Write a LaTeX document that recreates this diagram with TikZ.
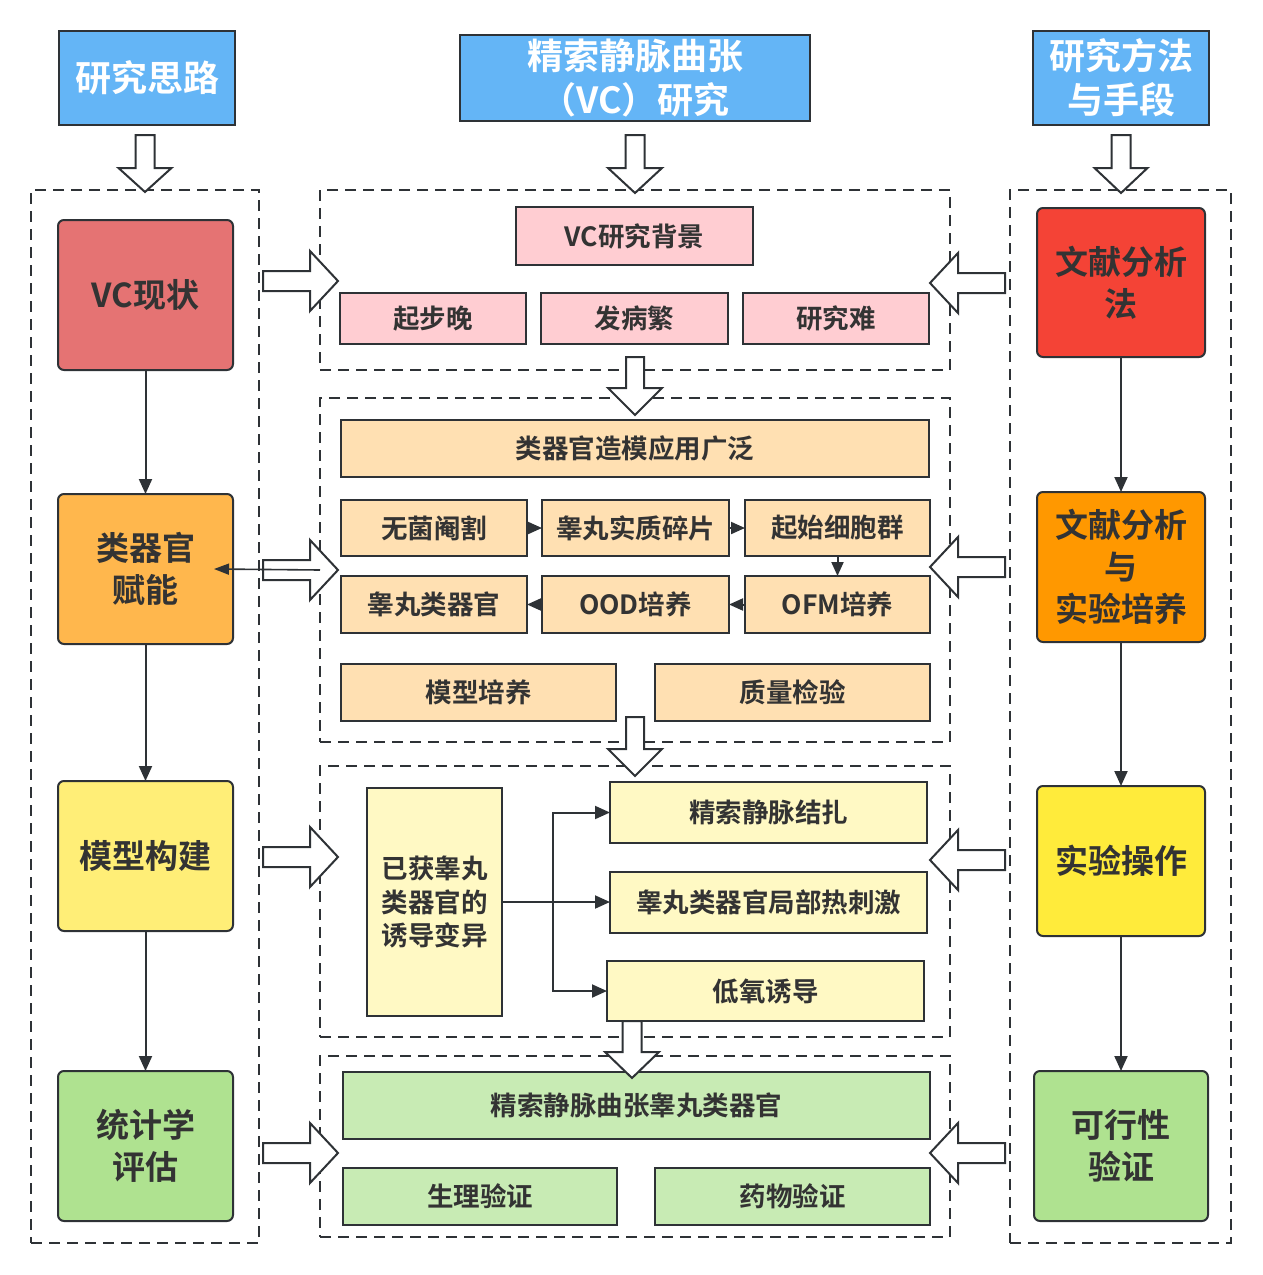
\documentclass[tikz,border=0pt]{standalone}
\usepackage{fontspec}
\setmainfont{Noto Sans CJK SC}[BoldFont={Noto Sans CJK SC Bold}]
\usetikzlibrary{arrows.meta,calc}
\definecolor{ln}{HTML}{2E3236}
\definecolor{txt}{HTML}{333333}
\definecolor{hdrblue}{HTML}{64B5F6}
\definecolor{cA}{HTML}{E57373}
\definecolor{cB}{HTML}{FFB74D}
\definecolor{cC}{HTML}{FFEE77}
\definecolor{cD}{HTML}{AFE290}
\definecolor{rA}{HTML}{F44336}
\definecolor{rB}{HTML}{FF9800}
\definecolor{rC}{HTML}{FFEB3B}
\definecolor{pinkf}{HTML}{FFCDD2}
\definecolor{peachf}{HTML}{FFE0B2}
\definecolor{ltyel}{HTML}{FFF9C4}
\definecolor{ltgrn}{HTML}{C8EBB4}
\begin{document}
\begin{tikzpicture}[x=1pt,y=-1pt,
  corners/.style args={#1/#2/#3/#4}{at={({(#1+#3)/2},{(#2+#4)/2})},minimum width={#3-#1},minimum height={#4-#2}},
  base/.style={draw=ln, line width=2pt, inner sep=0pt, outer sep=0pt, text=txt, align=center},
  hdr/.style={base, fill=hdrblue, text=white, font=\fontsize{36}{44}\selectfont\bfseries},
  side/.style={base, rounded corners=6pt, font=\fontsize{33}{42}\selectfont\bfseries},
  item/.style={base, font=\fontsize{26.5}{33.5}\selectfont\bfseries},
  dbox/.style={draw=ln, line width=2pt, dash pattern=on 11pt off 7pt, inner sep=0pt, outer sep=0pt},
  tip/.style={draw=ln, line width=2pt, -{Triangle[length=15pt,width=13pt]}},
  stip/.style={draw=ln, line width=2pt, -{Triangle[length=14pt,width=12pt]}},
  thin/.style={draw=ln, line width=1.6pt, -{Triangle[length=15pt,width=11pt]}},
  hollow/.style={draw=ln, line width=2pt, fill=white, line join=miter},
  pics/blk/.style args={#1/#2/#3/#4}{code={\draw[hollow] (0,-#3) -- ({#1-#2},-#3) -- ({#1-#2},-#4) -- (#1,0) -- ({#1-#2},#4) -- ({#1-#2},#3) -- (0,#3) -- cycle;}}
]
\useasboundingbox (0,0) rectangle (1263,1275);

% headers
\node[hdr, corners=59/31/235/125] (h1) {研究思路};
\node[hdr, corners=460/35/810/121] (h2) {精索静脉曲张\\（VC）研究};
\node[hdr, corners=1033/31/1209/125] (h3) {研究方法\\与手段};

% dashed frames
\node[dbox, corners=31/190/259/1243] (lcol) {};
\node[dbox, corners=320/190/950/370] (mb1) {};
\node[dbox, corners=320/398/950/742] (mb2) {};
\node[dbox, corners=320/766/950/1037] (mb3) {};
\node[dbox, corners=320/1056/950/1237] (mb4) {};
\node[dbox, corners=1010/190/1231/1243] (rcol) {};

% left column
\node[side, fill=cA, corners=58/220/233/370] (l1) {VC现状};
\node[side, fill=cB, corners=58/494/233/644] (l2) {类器官\\赋能};
\node[side, fill=cC, corners=58/781/233/931] (l3) {模型构建};
\node[side, fill=cD, corners=58/1071/233/1221] (l4) {统计学\\评估};

% right column
\node[side, fill=rA, corners=1037/208/1205/357] (r1) {文献分析\\法};
\node[side, fill=rB, corners=1037/492/1205/642] (r2) {文献分析\\与\\实验培养};
\node[side, fill=rC, corners=1037/786/1205/936] (r3) {实验操作};
\node[side, fill=cD, corners=1034/1071/1208/1221] (r4) {可行性\\验证};

% middle box 1
\node[item, fill=pinkf, corners=516/207/753/265] (bg) {VC研究背景};
\node[item, fill=pinkf, corners=340/293/526/344] (qb) {起步晚};
\node[item, fill=pinkf, corners=541/293/728/344] (fb) {发病繁};
\node[item, fill=pinkf, corners=743/293/929/344] (yj) {研究难};

% middle box 2
\node[item, fill=peachf, corners=341/420/929/477] (yy) {类器官造模应用广泛};
\node[item, fill=peachf, corners=341/500/527/556] (wj) {无菌阉割};
\node[item, fill=peachf, corners=542/500/729/556] (sz) {睾丸实质碎片};
\node[item, fill=peachf, corners=745/500/930/556] (qs) {起始细胞群};
\node[item, fill=peachf, corners=341/576/527/633] (gw) {睾丸类器官};
\node[item, fill=peachf, corners=542/576/729/633] (ood) {OOD培养};
\node[item, fill=peachf, corners=745/576/930/633] (ofm) {OFM培养};
\node[item, fill=peachf, corners=341/664/616/721] (mx) {模型培养};
\node[item, fill=peachf, corners=655/664/930/721] (zl) {质量检验};

% middle box 3
\node[item, fill=ltyel, corners=367/788/502/1016] (ind) {已获睾丸\\类器官的\\诱导变异};
\node[item, fill=ltyel, corners=610/782/927/843] (jz) {精索静脉结扎};
\node[item, fill=ltyel, corners=610/872/927/933] (rcj) {睾丸类器官局部热刺激};
\node[item, fill=ltyel, corners=607/961/924/1021] (dy) {低氧诱导};

% middle box 4
\node[item, fill=ltgrn, corners=343/1072/930/1139] (vco) {精索静脉曲张睾丸类器官};
\node[item, fill=ltgrn, corners=343/1168/617/1225] (sl) {生理验证};
\node[item, fill=ltgrn, corners=655/1168/930/1225] (yw) {药物验证};

% block arrows
\pic[rotate=-90] at ($(h1.south)+(-2,10)$) {blk=57/24/9.5/26.5};
\pic[rotate=-90] at ($(h2.south)+(0,14)$) {blk=58/25/9.5/27};
\pic[rotate=-90] at ($(h3.south)+(0,10)$) {blk=58/25/9.5/26.5};
\pic[rotate=-90] at (635,357) {blk=58/27/9/27};
\pic[rotate=-90] at (635,717) {blk=59/27/9/27};
\pic[rotate=-90] at (632,1021) {blk=57/26/9.5/27};

\pic at (263,281) {blk=75/28/10/30};
\pic at (263,570) {blk=75/28/10/30};
\pic at (263,857) {blk=75/28/10/30};
\pic at (263,1153) {blk=75/28/10/30};

\pic[rotate=180] at (1005,283) {blk=75/28/10/30};
\pic[rotate=180] at (1005,567) {blk=75/28/10/30};
\pic[rotate=180] at (1005,860) {blk=75/28/10/30};
\pic[rotate=180] at (1005,1153) {blk=75/28/10/30};

% column connectors
\draw[tip] (l1.south) -- (l2.north);
\draw[tip] (l2.south) -- (l3.north);
\draw[tip] (l3.south) -- (l4.north);
\draw[tip] (r1.south) -- (r2.north);
\draw[tip] (r2.south) -- (r3.north);
\draw[tip] (r3.south) -- (r4.north);

% box 2 connectors
\draw[stip] (wj.east) -- (sz.west);
\draw[stip] (sz.east) -- (qs.west);
\draw[stip] (qs.south) -- (ofm.north);
\draw[stip] (ofm.west) -- (ood.east);
\draw[stip] (ood.west) -- (gw.east);

% thin arrow into organoid empowerment
\draw[thin] (mb2.west) -- ($(l2.east)+(-19,0)$);

% box 3 connectors
\draw[draw=ln, line width=2pt] (ind.east) -- ++(51,0) coordinate (br);
\draw[tip] (br) |- (jz.west);
\draw[tip] (br) -- (rcj.west |- br);
\draw[tip] (br) |- (dy.west);
\end{tikzpicture}
\end{document}
